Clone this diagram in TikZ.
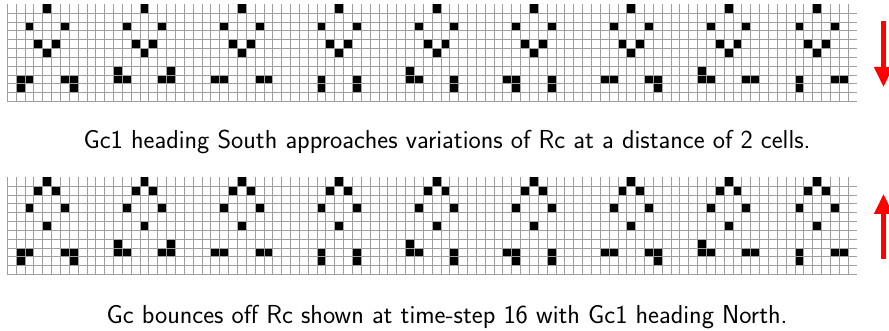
\documentclass[tikz,border=0pt]{standalone}
\usetikzlibrary{arrows.meta}
\begin{document}
\begin{tikzpicture}[x=1pt,y=-1pt,
  gridline/.style={draw=black!38,line width=0.9pt},
  cellfill/.style={fill=black},
  caption/.style={font=\fontsize{26}{30}\selectfont\sffamily,anchor=base,inner sep=0pt},
  dirarrow/.style={draw=red,line width=4.2pt,-{Triangle[length=20pt,width=18pt]}}]
\useasboundingbox (0,0) rectangle (889,331);
\def\cw{8.85}
% ---------- top panel ----------
\begin{scope}[shift={(7.3,4.3)}]
  \foreach \c in {4,15,26,37,48,59,70,81,91}{
    \foreach \dx/\r in {0/0,-2/2,2/2,-1/4,1/4,0/5}
      \fill[cellfill] ({\cw*(\c+\dx)},{\cw*\r}) rectangle ++(\cw,\cw);
  }
  \foreach \c/\r in {1/8,2/8,1/9,6/8,7/8,7/9,
                     12/7,12/8,13/8,17/8,18/8,18/7,
                     23/8,24/8,28/8,29/8,
                     35/8,35/9,39/8,39/9,
                     45/7,45/8,46/8,50/8,50/9,
                     56/8,57/8,57/9,61/8,61/9,
                     67/8,68/8,72/8,73/8,73/9,
                     78/7,78/8,79/8,83/8,84/8,
                     89/8,89/9,93/8,94/8}
    \fill[cellfill] ({\cw*\c},{\cw*\r}) rectangle ++(\cw,\cw);
  \foreach \k in {0,...,95}
    \draw[gridline] ({\cw*\k},0) -- ++(0,{11*\cw});
  \foreach \k in {1,...,11}
    \draw[gridline] (0,{\cw*\k}) -- ++({96*\cw},0);
\end{scope}
% ---------- bottom panel ----------
\begin{scope}[shift={(7.3,177.3)}]
  \foreach \c in {4,15,26,37,48,59,70,81,91}{
    \foreach \dx/\r in {0/0,-1/1,1/1,-2/3,2/3,0/5}
      \fill[cellfill] ({\cw*(\c+\dx)},{\cw*\r}) rectangle ++(\cw,\cw);
  }
  \foreach \c/\r in {1/8,2/8,1/9,6/8,7/8,7/9,
                     12/7,12/8,13/8,17/8,18/8,18/7,
                     23/8,24/8,28/8,29/8,
                     35/8,35/9,39/8,39/9,
                     45/7,45/8,46/8,50/8,50/9,
                     56/8,57/8,57/9,61/8,61/9,
                     67/8,68/8,72/8,73/8,73/9,
                     78/7,78/8,79/8,83/8,84/8,
                     89/8,89/9,93/8,94/8}
    \fill[cellfill] ({\cw*\c},{\cw*\r}) rectangle ++(\cw,\cw);
  \foreach \k in {0,...,95}
    \draw[gridline] ({\cw*\k},0) -- ++(0,{11*\cw});
  \foreach \k in {1,...,11}
    \draw[gridline] (0,{\cw*\k}) -- ++({96*\cw},0);
\end{scope}
% ---------- arrows ----------
\coordinate (sTop) at (883.5,21);
\coordinate (sBot) at (883.5,87);
\draw[dirarrow] (sTop) -- (sBot);
\coordinate (nBot) at (883.5,259);
\coordinate (nTop) at (883.5,194);
\draw[dirarrow] (nBot) -- (nTop);
% ---------- captions ----------
\node[caption] (capTop) at (447,149) {Gc1 heading South approaches variations of Rc at a distance of 2 cells.};
\node[caption] (capBot) at (447,323) {Gc bounces off Rc shown at time-step 16 with Gc1 heading North.};
\end{tikzpicture}
\end{document}
